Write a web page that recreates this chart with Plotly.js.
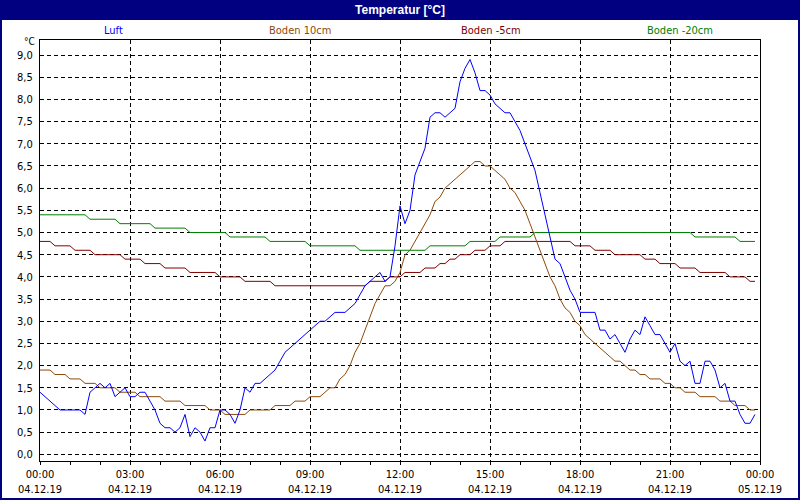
<!DOCTYPE html>
<html>
<head>
<meta charset="utf-8">
<script src="https://cdn.plot.ly/plotly-3.0.1.min.js"></script>
<style>
  html, body { margin: 0; padding: 0; background: #ffffff; }
  #chart { width: 800px; height: 500px; }
</style>
</head>
<body>
<div id="chart"></div>
<script>
// ---- data (10-minute samples, 04.12.19 00:00 .. 23:50) ----
const startDate = '2019-12-04';
const stepMinutes = 10;

const seriesNames = ['Luft', 'Boden 10cm', 'Boden -5cm', 'Boden -20cm'];

const luft = [
  1.4,1.3,1.2,1.1,1.0,1.0,1.0,1.0,1.0,0.9,
  1.4,1.5,1.6,1.5,1.6,1.3,1.4,1.5,1.3,1.3,
  1.4,1.4,1.2,1.0,0.7,0.6,0.6,0.5,0.6,0.9,
  0.4,0.6,0.5,0.3,0.6,0.6,1.0,1.0,0.9,0.7,
  1.0,1.5,1.4,1.6,1.6,1.7,1.8,1.9,2.1,2.3,
  2.4,2.5,2.6,2.7,2.8,2.9,3.0,3.0,3.1,3.2,
  3.2,3.2,3.3,3.4,3.6,3.8,3.9,4.0,4.1,3.9,
  4.0,4.7,5.6,5.2,5.5,6.3,6.6,6.9,7.6,7.7,
  7.7,7.6,7.7,7.8,8.4,8.7,8.9,8.6,8.2,8.2,
  8.1,7.9,7.8,7.7,7.7,7.5,7.3,7.0,6.7,6.4,
  5.9,5.4,4.9,4.4,4.3,4.0,3.7,3.5,3.2,3.2,
  3.2,3.2,2.8,2.8,2.6,2.7,2.5,2.3,2.6,2.8,
  2.7,3.1,2.9,2.7,2.7,2.5,2.3,2.5,2.1,2.0,
  2.1,1.6,1.6,2.1,2.1,1.9,1.5,1.6,1.2,1.2,
  0.9,0.7,0.7,0.9
];

const boden10 = [
  1.9,1.9,1.9,1.8,1.8,1.8,1.7,1.7,1.7,1.6,
  1.6,1.6,1.5,1.5,1.5,1.5,1.4,1.4,1.4,1.4,
  1.3,1.3,1.3,1.3,1.3,1.2,1.2,1.2,1.2,1.1,
  1.1,1.1,1.1,1.1,1.0,1.0,1.0,0.9,0.9,0.9,
  0.9,0.9,1.0,1.0,1.0,1.0,1.0,1.1,1.1,1.1,
  1.1,1.2,1.2,1.2,1.3,1.3,1.3,1.4,1.5,1.5,
  1.7,1.8,2.0,2.3,2.5,2.8,3.1,3.4,3.6,3.8,
  3.8,3.9,4.1,4.5,4.6,4.8,5.0,5.2,5.4,5.7,
  5.8,6.0,6.1,6.2,6.3,6.4,6.5,6.6,6.6,6.5,
  6.5,6.4,6.3,6.2,6.0,5.9,5.7,5.5,5.2,4.9,
  4.6,4.3,4.0,3.8,3.5,3.3,3.2,3.0,2.9,2.7,
  2.6,2.5,2.4,2.3,2.2,2.1,2.1,2.0,1.9,1.9,
  1.8,1.8,1.7,1.7,1.7,1.6,1.6,1.5,1.5,1.4,
  1.4,1.4,1.3,1.3,1.3,1.3,1.2,1.2,1.2,1.1,
  1.1,1.1,1.0,1.0
];

const bodenMinus5 = [
  4.8,4.8,4.8,4.7,4.7,4.7,4.7,4.6,4.6,4.6,
  4.6,4.5,4.5,4.5,4.5,4.5,4.5,4.4,4.4,4.4,
  4.4,4.3,4.3,4.3,4.3,4.2,4.2,4.2,4.2,4.2,
  4.1,4.1,4.1,4.1,4.1,4.1,4.0,4.0,4.0,4.0,
  4.0,3.9,3.9,3.9,3.9,3.9,3.9,3.8,3.8,3.8,
  3.8,3.8,3.8,3.8,3.8,3.8,3.8,3.8,3.8,3.8,
  3.8,3.8,3.8,3.8,3.8,3.8,3.9,3.9,3.9,3.9,
  4.0,4.0,4.0,4.1,4.1,4.1,4.1,4.2,4.2,4.2,
  4.3,4.3,4.4,4.4,4.5,4.5,4.5,4.6,4.6,4.6,
  4.7,4.7,4.7,4.8,4.8,4.8,4.8,4.8,4.8,4.8,
  4.8,4.8,4.8,4.8,4.8,4.8,4.8,4.7,4.7,4.7,
  4.7,4.6,4.6,4.6,4.6,4.5,4.5,4.5,4.5,4.5,
  4.5,4.4,4.4,4.4,4.3,4.3,4.3,4.3,4.2,4.2,
  4.2,4.2,4.1,4.1,4.1,4.1,4.1,4.1,4.0,4.0,
  4.0,4.0,3.9,3.9
];

const bodenMinus20 = [
  5.4,5.4,5.4,5.4,5.4,5.4,5.4,5.4,5.4,5.4,
  5.3,5.3,5.3,5.3,5.3,5.3,5.2,5.2,5.2,5.2,
  5.2,5.2,5.2,5.1,5.1,5.1,5.1,5.1,5.1,5.1,
  5.0,5.0,5.0,5.0,5.0,5.0,5.0,5.0,4.9,4.9,
  4.9,4.9,4.9,4.9,4.9,4.9,4.8,4.8,4.8,4.8,
  4.8,4.8,4.8,4.8,4.7,4.7,4.7,4.7,4.7,4.7,
  4.7,4.7,4.7,4.7,4.6,4.6,4.6,4.6,4.6,4.6,
  4.6,4.6,4.6,4.6,4.6,4.6,4.6,4.6,4.7,4.7,
  4.7,4.7,4.7,4.7,4.7,4.7,4.8,4.8,4.8,4.8,
  4.8,4.8,4.9,4.9,4.9,4.9,4.9,4.9,4.9,5.0,
  5.0,5.0,5.0,5.0,5.0,5.0,5.0,5.0,5.0,5.0,
  5.0,5.0,5.0,5.0,5.0,5.0,5.0,5.0,5.0,5.0,
  5.0,5.0,5.0,5.0,5.0,5.0,5.0,5.0,5.0,5.0,
  5.0,4.9,4.9,4.9,4.9,4.9,4.9,4.9,4.9,4.9,
  4.8,4.8,4.8,4.8
];

const seriesColors = ['#0000ff', '#8f4a0a', '#800000', '#008000'];

// ---- time stamps ----
function pad(n) { return (n < 10 ? '0' : '') + n; }
const times = luft.map(function (_, i) {
  const total = i * stepMinutes;
  return startDate + ' ' + pad(Math.floor(total / 60)) + ':' + pad(total % 60);
});

const FONT = "'Liberation Sans Narrow', 'DejaVu Sans Condensed', 'Liberation Sans', Arial, sans-serif";

function lineTrace(y, idx) {
  return {
    x: times, y: y, type: 'scatter', mode: 'lines', name: seriesNames[idx],
    line: { color: seriesColors[idx], width: 1 }, hoverinfo: 'x+y+name'
  };
}

const data = [
  lineTrace(bodenMinus20, 3),
  lineTrace(bodenMinus5, 2),
  lineTrace(boden10, 1),
  lineTrace(luft, 0)
];

const W = 800, H = 500, ML = 40, MR = 40, MT = 40, MB = 39;
const PW = W - ML - MR, PH = H - MT - MB;

const legendX = [113, 300, 491, 680];
const annotations = seriesNames.map(function (n, i) {
  return {
    text: n, xref: 'paper', yref: 'paper',
    x: (legendX[i] - ML) / PW, y: 1 + (MT - 31) / PH,
    xanchor: 'center', yanchor: 'middle', showarrow: false,
    font: { family: FONT, size: 11, color: seriesColors[i] }
  };
});
annotations.push({
  text: '°C', xref: 'paper', yref: 'paper',
  x: (37 - ML) / PW, y: 1 - 1 / PH, xanchor: 'right', yanchor: 'middle',
  showarrow: false, font: { family: FONT, size: 10, color: '#000' }
});

const layout = {
  width: W, height: H,
  margin: { l: ML, r: MR, t: MT, b: MB, pad: 0 },
  paper_bgcolor: '#ffffff', plot_bgcolor: '#ffffff',
  separators: ',.',
  showlegend: false,
  font: { family: FONT, size: 11, color: '#000' },
  title: {
    text: 'Temperatur [°C]',
    font: { family: "'Liberation Sans', Arial, sans-serif", size: 12, color: '#ffffff', weight: 'bold' },
    x: 0.5, xanchor: 'center', y: 1 - 10 / H, yanchor: 'middle', xref: 'container', yref: 'container'
  },
  xaxis: {
    type: 'date',
    range: ['2019-12-04 00:00', '2019-12-05 00:00'],
    tick0: '2019-12-04 00:00', dtick: 3 * 3600000,
    tickformat: '%H:%M<br>%d.%m.%y',
    ticks: 'outside', ticklen: 3, tickcolor: '#000', tickwidth: 1,
    minor: { dtick: 3600000, ticks: 'outside', ticklen: 3, tickcolor: '#000', showgrid: false },
    showline: true, linecolor: '#000', linewidth: 1, mirror: true,
    showgrid: true, gridcolor: '#000', gridwidth: 1, griddash: '4px,3px',
    zeroline: false, fixedrange: true,
    tickfont: { family: FONT, size: 11, color: '#000' }
  },
  yaxis: {
    range: [-0.15, 9.34],
    tick0: 0, dtick: 0.5, tickformat: '.1f',
    ticks: '', ticklabelstandoff: 4,
    showline: true, linecolor: '#000', linewidth: 1, mirror: true,
    showgrid: true, gridcolor: '#000', gridwidth: 1, griddash: '4px,3px',
    zeroline: false, fixedrange: true,
    tickfont: { family: FONT, size: 11, color: '#000' }
  },
  shapes: [
    { type: 'rect', xref: 'paper', yref: 'paper', layer: 'below',
      x0: -ML / PW, x1: 1 + MR / PW, y0: 1 + (MT - 20) / PH, y1: 1 + MT / PH,
      fillcolor: '#000080', line: { width: 0 } },
    { type: 'rect', xref: 'paper', yref: 'paper', layer: 'above',
      x0: -ML / PW, x1: 1 + MR / PW, y0: -MB / PH, y1: 1 + MT / PH,
      fillcolor: 'rgba(0,0,0,0)', line: { color: '#000080', width: 4 } }
  ],
  annotations: annotations
};

Plotly.newPlot('chart', data, layout, { displayModeBar: false, staticPlot: true });
</script>
</body>
</html>
